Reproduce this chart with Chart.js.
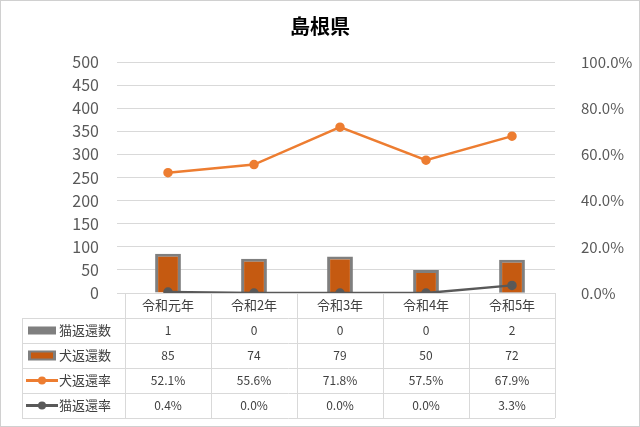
<!DOCTYPE html><html><head><meta charset="utf-8">
<script src="https://cdn.jsdelivr.net/npm/chart.js@4"></script>
<style>html,body{margin:0;padding:0;background:#fff}#w{width:640px;height:427px}</style></head><body>
<div id="w"><canvas id="c"></canvas></div>
<script>
const categories=["令和元年","令和2年","令和3年","令和4年","令和5年"];
const catReturned=[1,0,0,0,2];
const dogReturned=[85,74,79,50,72];
const dogRate=[52.1,55.6,71.8,57.5,67.9];
const catRate=[0.4,0.0,0.0,0.0,3.3];
const seriesNames=["猫返還数","犬返還数","犬返還率","猫返還率"];
const FONT="'Noto Sans CJK JP', 'Noto Sans', sans-serif";
const tablePlugin={id:'tbl',afterDraw(ch){
 const c=ch.ctx,a=ch.chartArea;
 const rowH=25,top=a.bottom,left=22;
 const w=(a.right-a.left)/categories.length;
 c.save();
 c.strokeStyle='#d9d9d9';c.lineWidth=1;
 for(let r=1;r<=5;r++){const y=top+r*rowH+0.5;c.beginPath();c.moveTo(left,y);c.lineTo(a.right,y);c.stroke();}
 c.beginPath();c.moveTo(left+0.5,top+rowH);c.lineTo(left+0.5,top+5*rowH);c.stroke();
 for(let i=0;i<=categories.length;i++){const xx=Math.round(a.left+i*w)+0.5;c.beginPath();c.moveTo(xx,top);c.lineTo(xx,top+5*rowH);c.stroke();}
 c.fillStyle='#404040';c.textAlign='center';c.textBaseline='middle';
 c.font='13px '+FONT;
 categories.forEach((t,i)=>c.fillText(t,a.left+(i+0.5)*w,top+rowH/2));
 const rows=[catReturned.map(String),dogReturned.map(String),dogRate.map(v=>v.toFixed(1)+'%'),catRate.map(v=>v.toFixed(1)+'%')];
 c.font='12px '+FONT;
 rows.forEach((r,ri)=>r.forEach((t,i)=>c.fillText(t,a.left+(i+0.5)*w,top+(ri+1.5)*rowH)));
 c.font='13px '+FONT;c.textAlign='left';
 seriesNames.forEach((n,ri)=>{const cy=top+(ri+1.5)*rowH;
  if(ri===0){c.fillStyle='#7f7f7f';c.fillRect(28,cy-4,28,8);}
  else if(ri===1){c.fillStyle='#7f7f7f';c.fillRect(28,cy-5,28,10);c.fillStyle='#c55a11';c.fillRect(31,cy-3,22,6);}
  else{const col=ri===2?'#ed7d31':'#595959';c.strokeStyle=col;c.lineWidth=3;c.beginPath();c.moveTo(26,cy);c.lineTo(58,cy);c.stroke();c.fillStyle=col;c.beginPath();c.arc(42,cy,4,0,7);c.fill();}
  c.fillStyle='#404040';c.fillText(n,59,cy);});
 c.font='bold 20px '+FONT;c.textAlign='center';c.fillStyle='#000';c.fillText('島根県',320,26);
 c.strokeStyle='#d0d0d0';c.lineWidth=1;c.strokeRect(0.5,0.5,639,426);
 c.restore();}};
new Chart(document.getElementById('c'),{
 data:{labels:categories,datasets:[
  {type:'line',label:seriesNames[2],data:dogRate,yAxisID:'y1',borderColor:'#ed7d31',backgroundColor:'#ed7d31',borderWidth:2.5,pointRadius:3.5,order:0},
  {type:'line',label:seriesNames[3],data:catRate,yAxisID:'y1',borderColor:'#595959',backgroundColor:'#595959',borderWidth:2.5,pointRadius:3.5,order:1},
  {type:'bar',label:seriesNames[0],data:catReturned,yAxisID:'y',backgroundColor:'#7f7f7f',grouped:false,barPercentage:0.3,categoryPercentage:1,order:3},
  {type:'bar',label:seriesNames[1],data:dogReturned,yAxisID:'y',backgroundColor:'#c55a11',borderColor:'#7f7f7f',borderWidth:3,grouped:false,barPercentage:0.3,categoryPercentage:1,order:2}
 ]},
 options:{responsive:true,maintainAspectRatio:false,animation:false,
  layout:{padding:{top:62,bottom:134,left:0,right:0}},
  plugins:{legend:{display:false},tooltip:{enabled:false}},
  scales:{
   x:{display:false},
   y:{position:'left',min:0,max:500,ticks:{stepSize:50,autoSkip:false,color:'#595959',font:{size:16,family:FONT},padding:18},grid:{color:'#d9d9d9'},border:{display:false},afterFit(s){s.width=125;}},
   y1:{position:'right',min:0,max:100,ticks:{stepSize:20,color:'#595959',font:{size:15,family:FONT},padding:18,callback:v=>v.toFixed(1)+'%'},grid:{display:false},border:{display:false},afterFit(s){s.width=85;}}
  }},
 plugins:[tablePlugin]});
</script></body></html>
